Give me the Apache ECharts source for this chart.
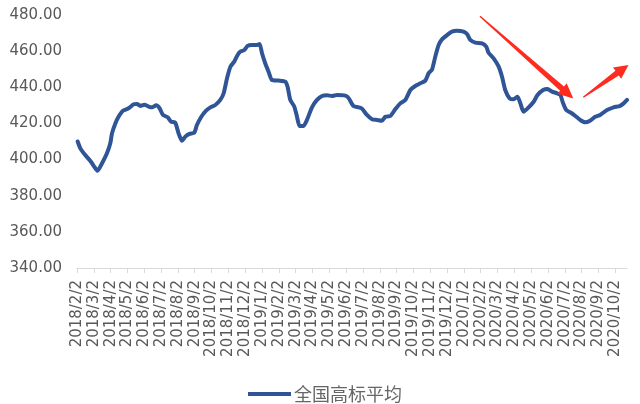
<!DOCTYPE html>
<html>
<head>
<meta charset="utf-8">
<script src="https://cdn.jsdelivr.net/npm/echarts@6/dist/echarts.min.js"></script>
<style>
html,body{margin:0;padding:0;background:#fff;}
#c{width:640px;height:404px;}
</style>
</head>
<body>
<div id="c"></div>
<script>
// Tick labels (monthly, first day label = 2nd of month)
const monthLabels = [
  '2018/2/2','2018/3/2','2018/4/2','2018/5/2','2018/6/2','2018/7/2','2018/8/2','2018/9/2','2018/10/2','2018/11/2','2018/12/2',
  '2019/1/2','2019/2/2','2019/3/2','2019/4/2','2019/5/2','2019/6/2','2019/7/2','2019/8/2','2019/9/2','2019/10/2','2019/11/2','2019/12/2',
  '2020/1/2','2020/2/2','2020/3/2','2020/4/2','2020/5/2','2020/6/2','2020/7/2','2020/8/2','2020/9/2','2020/10/2'
];
const seriesName = '全国高标平均';
// position of each reading, in months after 2018/2/2
const monthOffsets = [
  0.04,0.2,0.49,0.83,1.03,1.22,1.49,1.78,1.98,2.08,2.28,2.47,2.73,3.07,3.37,3.57,3.76,4.00,4.26,4.46,4.71,4.91,
  5.11,5.39,5.59,5.84,6.04,6.24,6.44,6.69,6.97,7.13,7.39,7.66,7.93,8.22,8.52,8.72,8.92,9.12,9.35,9.55,9.71,9.95,
  10.14,10.40,10.70,10.86,11.00,11.19,11.39,11.59,11.99,12.38,12.52,12.68,12.92,13.08,13.23,13.47,13.67,13.97,
  14.27,14.57,14.86,15.16,15.46,15.95,16.15,16.44,16.74,16.94,17.24,17.54,17.84,18.13,18.33,18.63,18.92,19.22,
  19.52,19.82,20.11,20.41,20.71,20.90,21.11,21.30,21.50,21.70,22.00,22.29,22.59,22.98,23.20,23.38,23.68,24.08,
  24.33,24.47,24.77,25.07,25.27,25.46,25.72,25.96,26.19,26.36,26.55,26.85,27.15,27.38,27.71,27.98,28.24,28.54,
  28.74,28.89,29.09,29.37,29.63,29.92,30.22,30.50,30.81,31.10,31.51,31.90,32.26,32.50,32.70
];
const priceValues = [
  410.0,406.2,402.5,398.8,396.0,393.8,398.0,403.5,409.0,414.5,420.0,423.7,427.0,428.4,430.6,430.8,429.7,430.4,429.3,428.9,430.0,428.4,
  424.7,423.4,421.0,420.4,414.5,410.4,412.7,414.2,414.9,419.1,423.7,427.0,428.9,430.2,433.0,436.7,445.0,451.4,454.2,457.9,459.7,460.6,
  462.9,463.4,463.4,464.0,458.8,453.3,448.6,444.0,443.7,443.1,440.3,433.0,429.3,423.7,418.6,418.6,421.9,428.9,
  433.0,435.2,435.6,435.2,435.7,435.4,434.0,429.6,428.9,428.2,424.7,422.3,421.9,421.5,423.7,424.1,427.8,431.1,
  433.0,438.5,440.7,442.2,443.7,447.7,449.9,456.9,463.4,466.5,468.9,470.8,471.3,470.8,469.3,466.2,464.7,464.3,
  462.5,459.1,456.0,451.4,445.8,438.5,433.9,433.4,434.8,431.1,426.5,428.9,432.0,435.7,438.5,439.1,437.6,436.7,
  435.7,431.5,427.4,425.9,424.1,421.9,420.6,421.5,423.7,424.7,427.4,428.9,429.6,431.1,433.0
];
const yMin = 340, yMax = 480, yStep = 20;

const data = monthOffsets.map((m, i) => [m, priceValues[i]]);
const tickIdx = monthLabels.map((_, i) => i);

const chart = echarts.init(document.getElementById('c'), null, {renderer: 'canvas'});

function arrow(tail, tip, headLen, headHalf, shaftTail, shaftHead) {
  const dx = tip[0] - tail[0], dy = tip[1] - tail[1];
  const L = Math.hypot(dx, dy);
  const ux = dx / L, uy = dy / L;
  const nx = -uy, ny = ux;
  const bx = tip[0] - ux * headLen, by = tip[1] - uy * headLen;
  return [
    [tail[0] + nx * shaftTail, tail[1] + ny * shaftTail],
    [bx + nx * shaftHead, by + ny * shaftHead],
    [bx + nx * headHalf, by + ny * headHalf],
    tip,
    [bx - nx * headHalf, by - ny * headHalf],
    [bx - nx * shaftHead, by - ny * shaftHead],
    [tail[0] - nx * shaftTail, tail[1] - ny * shaftTail]
  ];
}

const arrowColor = '#fe2c1f';

chart.setOption({
  animation: false,
  backgroundColor: '#ffffff',
  grid: {left: 77, right: 13, top: 15, bottom: 136, containLabel: false},
  xAxis: {
    type: 'value',
    min: 0,
    max: 32.7,
    interval: 1,
    splitLine: {show: false},
    axisLine: {show: true, lineStyle: {color: '#d9d9d9', width: 1}},
    axisTick: {show: true, length: 5, lineStyle: {color: '#d9d9d9'}, customValues: tickIdx},
    axisLabel: {
      customValues: tickIdx,
      rotate: 90,
      margin: 12,
      color: '#595959',
      fontFamily: 'DejaVu Sans',
      fontSize: 15,
      formatter: v => {
        const i = Math.round(v);
        return Math.abs(v - i) < 1e-6 && monthLabels[i] ? monthLabels[i] : '';
      }
    }
  },
  yAxis: {
    type: 'value',
    min: yMin,
    max: yMax,
    interval: yStep,
    splitLine: {show: false},
    axisLine: {show: false},
    axisTick: {show: false},
    axisLabel: {
      margin: 15,
      color: '#595959',
      fontFamily: 'DejaVu Sans',
      fontSize: 15,
      formatter: v => v.toFixed(2)
    }
  },
  legend: {
    data: [seriesName],
    left: 243,
    top: 380,
    icon: 'rect',
    itemWidth: 43,
    itemHeight: 4,
    itemGap: 10,
    textStyle: {color: '#666666', fontSize: 18, fontFamily: 'Noto Sans CJK SC', padding: [0, 0, 0, -2]}
  },
  series: [{
    name: seriesName,
    type: 'line',
    data: data,
    showSymbol: false,
    smooth: 0.2,
    color: '#2f5597',
    lineStyle: {width: 4, color: '#2f5597', cap: 'round', join: 'round'}
  }],
  graphic: [
    {type: 'polygon', shape: {points: arrow([480, 16.3], [573.3, 98.5], 15, 7, 0.7, 2.9)}, style: {fill: arrowColor}, z: 100},
    {type: 'polygon', shape: {points: arrow([583.3, 97.3], [628.5, 65], 14, 7, 0.7, 2.9)}, style: {fill: arrowColor}, z: 100}
  ]
});
</script>
</body>
</html>
